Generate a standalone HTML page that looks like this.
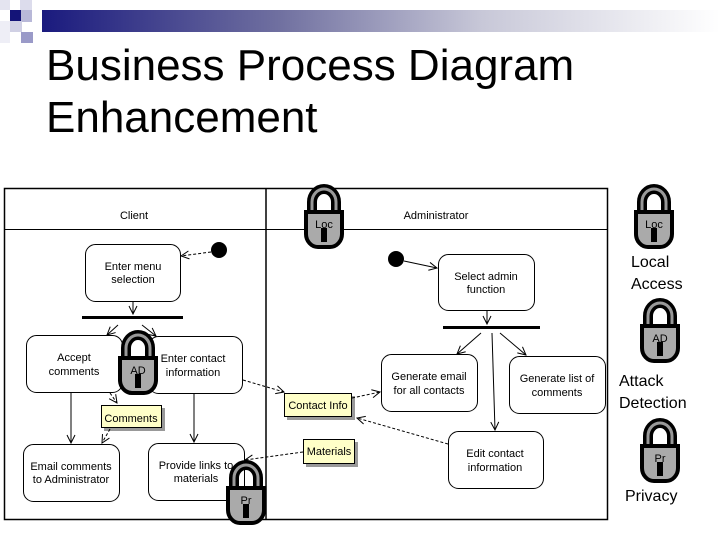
<!DOCTYPE html>
<html><head><meta charset="utf-8"><style>
body{margin:0;width:720px;height:540px;background:#fff;overflow:hidden;position:relative;font-family:"Liberation Sans",sans-serif}
.t{position:absolute;left:46px;font-size:44px;color:#000;line-height:52px}
</style></head><body>
<div style="position:absolute;left:0;top:0;width:10px;height:10px;background:#e4e4f0"></div>
<div style="position:absolute;left:20px;top:0;width:12px;height:10px;background:#dcdcec"></div>
<div style="position:absolute;left:10px;top:10px;width:11px;height:11px;background:#141478"></div>
<div style="position:absolute;left:21px;top:10px;width:11px;height:12px;background:#b8b8d8"></div>
<div style="position:absolute;left:10px;top:21px;width:12px;height:11px;background:#d0d0e4"></div>
<div style="position:absolute;left:0;top:21px;width:10px;height:22px;background:#eeeef6"></div>
<div style="position:absolute;left:21px;top:32px;width:12px;height:11px;background:#9a9ac8"></div>
<div style="position:absolute;left:42px;top:10px;width:678px;height:22px;background:linear-gradient(to right,#1a1a7e,#7070a0 35%,#c8c8d8 65%,#fff)"></div>
<div class="t" style="top:40px">Business Process Diagram</div>
<div class="t" style="top:92px">Enhancement</div>
<svg width="720" height="540" style="position:absolute;left:0;top:0" font-family="Liberation Sans, sans-serif">
<defs>
<marker id="a" markerWidth="10" markerHeight="10" refX="9" refY="5" orient="auto" markerUnits="userSpaceOnUse"><path d="M1,1 L9,5 L1,9" fill="none" stroke="#000" stroke-width="1"/></marker>
</defs>
<rect x="4.5" y="188.5" width="603" height="331" fill="none" stroke="#000" stroke-width="1.5"/>
<line x1="266" y1="188" x2="266" y2="520" stroke="#000" stroke-width="1.5"/>
<line x1="4" y1="229.5" x2="608" y2="229.5" stroke="#000"/>
<g font-size="11" text-anchor="middle" fill="#000">
<text x="134" y="219">Client</text>
<text x="436" y="219">Administrator</text>
<g fill="#fff" stroke="#000">
<rect x="85.5" y="244.5" width="95" height="57" rx="10"/>
<rect x="26.5" y="335.5" width="96" height="57" rx="10"/>
<rect x="148.5" y="336.5" width="94" height="57" rx="10"/>
<rect x="23.5" y="444.5" width="96" height="57" rx="10"/>
<rect x="148.5" y="443.5" width="96" height="57" rx="10"/>
<rect x="438.5" y="254.5" width="96" height="56" rx="10"/>
<rect x="381.5" y="354.5" width="96" height="57" rx="10"/>
<rect x="509.5" y="356.5" width="96" height="57" rx="10"/>
<rect x="448.5" y="431.5" width="95" height="57" rx="10"/>
</g>
<g fill="#999"><rect x="104" y="408" width="61" height="23"/><rect x="287" y="396" width="68" height="24"/><rect x="306" y="442" width="52" height="25"/></g>
<g fill="#ffffc8" stroke="#000"><rect x="101.5" y="405.5" width="60" height="22"/><rect x="284.5" y="393.5" width="67" height="23"/><rect x="303.5" y="439.5" width="51" height="24"/></g>
<text x="133" y="270">Enter menu</text><text x="133" y="283">selection</text>
<text x="74" y="361">Accept</text><text x="74" y="375">comments</text>
<text x="193" y="362">Enter contact</text><text x="193" y="376">information</text>
<text x="71" y="470">Email comments</text><text x="71" y="483">to Administrator</text>
<text x="196" y="469">Provide links to</text><text x="196" y="482">materials</text>
<text x="486" y="280">Select admin</text><text x="486" y="293">function</text>
<text x="429" y="380">Generate email</text><text x="429" y="394">for all contacts</text>
<text x="557" y="382">Generate list of</text><text x="557" y="396">comments</text>
<text x="495" y="457">Edit contact</text><text x="495" y="471">information</text>
<text x="131" y="422">Comments</text><text x="318" y="409">Contact Info</text><text x="329" y="455">Materials</text>
</g>
<circle cx="219" cy="250" r="8"/><circle cx="396" cy="259" r="8"/>
<rect x="82" y="316" width="101" height="3"/><rect x="443" y="326" width="97" height="3"/>
<g stroke="#000" fill="none" marker-end="url(#a)">
<line x1="211" y1="252" x2="181" y2="256" stroke-dasharray="3,2"/>
<line x1="133" y1="302" x2="133" y2="314"/>
<line x1="118" y1="325" x2="107" y2="335"/>
<line x1="142" y1="325" x2="156" y2="336"/>
<line x1="71" y1="393" x2="71" y2="443"/>
<line x1="194" y1="394" x2="194" y2="442"/>
<line x1="110" y1="393" x2="117" y2="403" stroke-dasharray="3,2"/>
<line x1="110" y1="429" x2="102" y2="443" stroke-dasharray="3,2"/>
<line x1="243" y1="380" x2="284" y2="392" stroke-dasharray="3,2"/>
<line x1="352" y1="398" x2="380" y2="392" stroke-dasharray="3,2"/>
<line x1="448" y1="444" x2="357" y2="418" stroke-dasharray="3,2"/>
<line x1="303" y1="452" x2="245" y2="460" stroke-dasharray="3,2"/>
<line x1="404" y1="261" x2="437" y2="268"/>
<line x1="487" y1="311" x2="487" y2="324"/>
<line x1="481" y1="333" x2="457" y2="354"/>
<line x1="492" y1="333" x2="495" y2="430"/>
<line x1="500" y1="333" x2="526" y2="355"/>
</g>
<g id="locks">
<g transform="translate(304,184)"><path d="M8,30 V18 A12,13 0 0 1 32,18 V30" fill="none" stroke="#000" stroke-width="10"/><path d="M8,30 V18 A12,13 0 0 1 32,18 V30" fill="none" stroke="#999" stroke-width="3"/><path d="M2,28 H38 V50 A12,13 0 0 1 26,63 H14 A12,13 0 0 1 2,50 Z" fill="#aaa" stroke="#000" stroke-width="4"/><text x="20" y="44" font-size="11" text-anchor="middle">Loc</text><rect x="17" y="44" width="6" height="14"/></g>
<g transform="translate(634,184)"><path d="M8,30 V18 A12,13 0 0 1 32,18 V30" fill="none" stroke="#000" stroke-width="10"/><path d="M8,30 V18 A12,13 0 0 1 32,18 V30" fill="none" stroke="#999" stroke-width="3"/><path d="M2,28 H38 V50 A12,13 0 0 1 26,63 H14 A12,13 0 0 1 2,50 Z" fill="#aaa" stroke="#000" stroke-width="4"/><text x="20" y="44" font-size="11" text-anchor="middle">Loc</text><rect x="17" y="44" width="6" height="14"/></g>
<g transform="translate(118,330)"><path d="M8,30 V18 A12,13 0 0 1 32,18 V30" fill="none" stroke="#000" stroke-width="10"/><path d="M8,30 V18 A12,13 0 0 1 32,18 V30" fill="none" stroke="#999" stroke-width="3"/><path d="M2,28 H38 V50 A12,13 0 0 1 26,63 H14 A12,13 0 0 1 2,50 Z" fill="#aaa" stroke="#000" stroke-width="4"/><text x="20" y="44" font-size="11" text-anchor="middle">AD</text><rect x="17" y="44" width="6" height="14"/></g>
<g transform="translate(640,298)"><path d="M8,30 V18 A12,13 0 0 1 32,18 V30" fill="none" stroke="#000" stroke-width="10"/><path d="M8,30 V18 A12,13 0 0 1 32,18 V30" fill="none" stroke="#999" stroke-width="3"/><path d="M2,28 H38 V50 A12,13 0 0 1 26,63 H14 A12,13 0 0 1 2,50 Z" fill="#aaa" stroke="#000" stroke-width="4"/><text x="20" y="44" font-size="11" text-anchor="middle">AD</text><rect x="17" y="44" width="6" height="14"/></g>
<g transform="translate(226,460)"><path d="M8,30 V18 A12,13 0 0 1 32,18 V30" fill="none" stroke="#000" stroke-width="10"/><path d="M8,30 V18 A12,13 0 0 1 32,18 V30" fill="none" stroke="#999" stroke-width="3"/><path d="M2,28 H38 V50 A12,13 0 0 1 26,63 H14 A12,13 0 0 1 2,50 Z" fill="#aaa" stroke="#000" stroke-width="4"/><text x="20" y="44" font-size="11" text-anchor="middle">Pr</text><rect x="17" y="44" width="6" height="14"/></g>
<g transform="translate(640,418)"><path d="M8,30 V18 A12,13 0 0 1 32,18 V30" fill="none" stroke="#000" stroke-width="10"/><path d="M8,30 V18 A12,13 0 0 1 32,18 V30" fill="none" stroke="#999" stroke-width="3"/><path d="M2,28 H38 V50 A12,13 0 0 1 26,63 H14 A12,13 0 0 1 2,50 Z" fill="#aaa" stroke="#000" stroke-width="4"/><text x="20" y="44" font-size="11" text-anchor="middle">Pr</text><rect x="17" y="44" width="6" height="14"/></g>
</g>
<g font-size="16" fill="#000">
<text x="631" y="267">Local</text><text x="631" y="289">Access</text>
<text x="619" y="386">Attack</text><text x="619" y="408">Detection</text>
<text x="625" y="501">Privacy</text>
</g>
</svg>
</body></html>
